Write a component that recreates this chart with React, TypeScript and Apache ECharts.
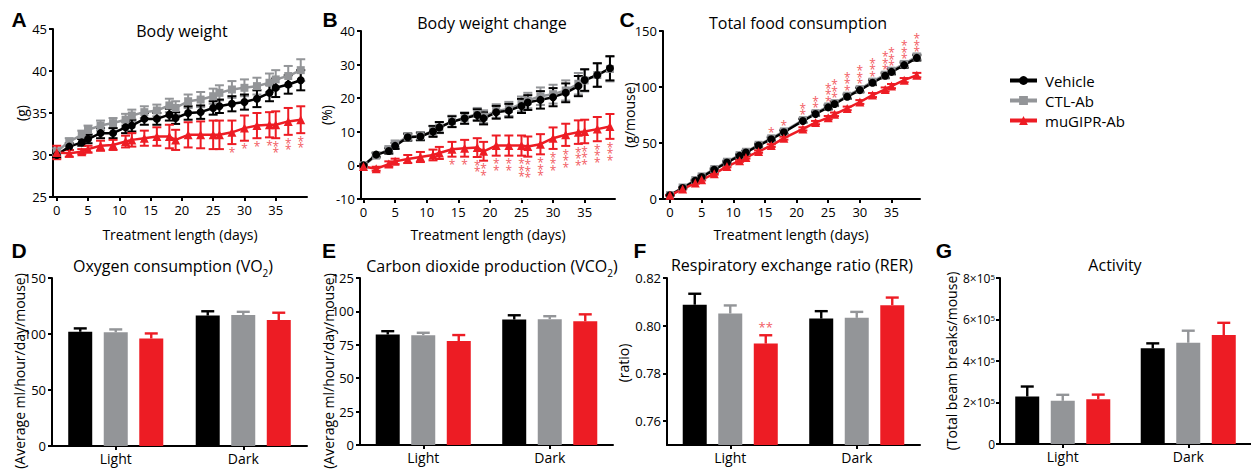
import React, { useEffect, useRef } from 'react';
import * as echarts from 'echarts';

// ---------- data ----------
const seriesNames = ['Vehicle', 'CTL-Ab', 'muGIPR-Ab'];
const days = [0, 2, 4, 5, 7, 9, 11, 12, 14, 16, 18, 19, 21, 23, 25, 26, 28, 30, 32, 34, 35, 37, 39];
const daysC = [0, 2, 4, 5, 7, 9, 11, 12, 14, 16, 18, 21, 23, 25, 26, 28, 30, 32, 34, 35, 37, 39];
const dayTicks = [0, 5, 10, 15, 20, 25, 30, 35];

// A: body weight (g)
const bwVehicle = [30.0, 31.0, 31.5, 31.9, 32.6, 32.6, 33.3, 33.5, 34.3, 34.3, 34.8, 34.4, 35.0, 35.1, 35.6, 35.8, 36.1, 36.3, 36.7, 37.4, 38.0, 38.4, 38.9];
const bwVehicleErr = [0.3, 0.4, 0.4, 0.5, 0.6, 0.6, 0.7, 0.7, 0.7, 0.7, 0.7, 0.7, 0.8, 0.8, 0.8, 0.8, 0.9, 0.9, 1.0, 1.0, 1.1, 1.1, 1.2];
const bwCtl = [30.4, 31.6, 32.4, 33.0, 33.5, 33.8, 34.2, 34.7, 35.1, 35.3, 35.9, 35.6, 36.4, 36.6, 37.0, 37.4, 37.8, 38.0, 38.2, 38.6, 39.0, 39.4, 40.1];
const bwCtlErr = [0.4, 0.4, 0.5, 0.5, 0.6, 0.6, 0.7, 0.7, 0.7, 0.7, 0.8, 0.8, 0.8, 0.9, 0.9, 0.9, 1.0, 1.0, 1.0, 1.1, 1.1, 1.2, 1.3];
const bwGipr = [30.3, 30.2, 30.4, 30.7, 31.1, 31.2, 31.6, 31.8, 32.0, 32.2, 32.2, 31.8, 32.4, 32.4, 32.4, 32.4, 32.7, 33.2, 33.5, 33.6, 33.6, 34.0, 34.2];
const bwGiprErr = [0.8, 0.4, 0.3, 0.4, 0.6, 0.6, 0.7, 0.8, 0.9, 1.1, 1.4, 1.2, 1.5, 1.6, 1.7, 1.7, 1.4, 1.5, 1.5, 1.5, 1.6, 1.6, 1.6];
const sigADays = [28, 30, 32, 34, 35, 37, 39];
const sigAStars = [1, 1, 1, 1, 2, 2, 2];

// B: body weight change (%)
const bwcVehicle = [0, 3.2, 4.3, 5.8, 8.4, 8.6, 10.1, 11.3, 13.0, 14.0, 15.0, 14.0, 15.8, 16.3, 17.7, 18.7, 19.5, 20.3, 21.6, 23.6, 25.4, 26.9, 28.9];
const bwcVehicleErr = [0.3, 0.6, 0.8, 0.9, 1.0, 1.1, 1.6, 1.6, 1.6, 1.6, 1.7, 1.8, 1.9, 2.0, 2.1, 2.2, 2.6, 2.7, 2.8, 3.0, 3.2, 3.5, 3.6];
const bwcCtl = [0, 2.9, 4.8, 6.4, 8.5, 8.7, 10.3, 11.2, 13.1, 14.1, 15.3, 14.5, 16.2, 16.8, 18.3, 19.3, 20.6, 21.2, 22.3, 24.3, 25.3, 26.9, 28.7];
const bwcCtlErr = [0.3, 0.7, 0.9, 1.0, 1.1, 1.2, 1.5, 1.6, 1.7, 1.7, 1.8, 1.9, 2.0, 2.1, 2.2, 2.3, 2.6, 2.8, 3.0, 3.2, 3.3, 3.5, 3.7];
const bwcGipr = [-0.3, -1.0, 0.4, 1.2, 1.9, 2.5, 3.1, 3.7, 4.8, 5.1, 5.3, 4.2, 5.9, 5.9, 5.9, 5.6, 6.3, 8.1, 9.1, 9.9, 10.1, 10.8, 11.6];
const bwcGiprErr = [0.3, 0.6, 0.8, 0.8, 1.2, 1.5, 1.6, 1.8, 2.2, 2.5, 2.8, 2.8, 3.0, 3.0, 3.0, 3.0, 3.0, 3.2, 3.3, 3.5, 3.5, 3.6, 3.7];
const sigBDays = [14, 16, 18, 19, 21, 23, 25, 26, 28, 30, 32, 34, 35, 37, 39];
const sigBStars = [1, 1, 2, 2, 2, 2, 3, 3, 3, 3, 3, 3, 3, 3, 3];

// C: total food consumption (g/mouse)
const foodVehicle = [3.3, 9.8, 16.3, 19.6, 26.1, 32.6, 38.5, 41.5, 47.7, 53.4, 59.6, 69.7, 75.9, 81.8, 84.8, 91.3, 97.2, 103.8, 110.0, 113.5, 119.5, 126.0];
const foodVehicleErr = [0.2, 0.4, 0.6, 0.7, 0.9, 1.0, 1.1, 1.2, 1.3, 1.4, 1.5, 1.6, 1.7, 1.8, 1.8, 1.9, 2.0, 2.1, 2.2, 2.2, 2.3, 2.4];
const foodCtl = [3.5, 10.3, 16.9, 20.2, 26.8, 33.3, 39.2, 42.2, 48.4, 54.2, 60.4, 70.5, 76.7, 82.7, 85.6, 92.2, 98.1, 104.8, 111.0, 114.6, 120.6, 127.2];
const foodCtlErr = [0.3, 0.5, 0.7, 0.8, 1.0, 1.1, 1.2, 1.3, 1.4, 1.5, 1.6, 1.7, 1.8, 1.9, 1.9, 2.0, 2.1, 2.2, 2.3, 2.3, 2.4, 2.5];
const foodGipr = [3.3, 8.9, 14.2, 17.2, 22.5, 29.1, 34.1, 37.1, 42.4, 47.7, 54.3, 62.6, 68.2, 72.6, 75.6, 80.9, 86.6, 92.8, 97.8, 100.8, 106.1, 110.6];
const foodGiprErr = [0.2, 0.3, 0.5, 0.6, 0.7, 0.8, 0.9, 1.0, 1.1, 1.2, 1.3, 1.4, 1.5, 1.5, 1.6, 1.6, 1.7, 1.8, 1.8, 1.9, 1.9, 2.0];
const sigCDays = [16, 18, 21, 23, 25, 26, 28, 30, 32, 34, 35, 37, 39];
const sigCStars = [1, 1, 2, 2, 3, 3, 3, 3, 3, 3, 3, 3, 3];

// D-G: bar panels
const periods = ['Light', 'Dark'];
const vo2Vehicle = [102, 116.5];
const vo2VehicleErr = [3.0, 3.8];
const vo2Ctl = [101.5, 117];
const vo2CtlErr = [2.6, 2.8];
const vo2Gipr = [96, 112.5];
const vo2GiprErr = [4.5, 6.5];

const vco2Vehicle = [82.7, 93.9];
const vco2VehicleErr = [2.5, 3.2];
const vco2Ctl = [82.2, 94.2];
const vco2CtlErr = [1.8, 2.2];
const vco2Gipr = [77.8, 92.6];
const vco2GiprErr = [4.5, 5.2];

const rerVehicle = [0.8088, 0.803];
const rerVehicleErr = [0.0046, 0.0031];
const rerCtl = [0.8051, 0.8033];
const rerCtlErr = [0.0034, 0.0025];
const rerGipr = [0.7925, 0.8086];
const rerGiprErr = [0.0035, 0.0032];
const sigFPeriod = [0];
const sigFLabel = ['**'];

const actVehicle = [229000, 461000];
const actVehicleErr = [48000, 24000];
const actCtl = [208000, 488000];
const actCtlErr = [29000, 58000];
const actGipr = [216000, 525000];
const actGiprErr = [22000, 59000];

const rerTicks = [0.76, 0.78, 0.8, 0.82];

// ---------- styles ----------
const FONT = '"Open Sans", "Noto Sans", sans-serif';
const BOLD_FONT = '"Liberation Sans", Arial, sans-serif';
const BLACK = '#000000';
const GRAY = '#939598';
const RED = '#ED1C24';
const STAR = '#F25C63';
const COLORS = [BLACK, GRAY, RED];
const SYMBOLS = ['circle', 'rect', 'triangle'];
const SYMBOL_SIZES = [8, 8, 9];
const BAR_W = 24;
const BAR_STEP = 35.5;

const errRender = (color: string, hw: number) => (params: any, api: any) => {
  const x = api.value(0), y = api.value(1), e = api.value(2);
  const t = api.coord([x, y + e]);
  const b = api.coord([x, y - e]);
  const s = { stroke: color, lineWidth: 2 };
  return {
    type: 'group',
    children: [
      { type: 'line', shape: { x1: t[0], y1: t[1], x2: b[0], y2: b[1] }, style: s },
      { type: 'line', shape: { x1: t[0] - hw, y1: t[1], x2: t[0] + hw, y2: t[1] }, style: s },
      { type: 'line', shape: { x1: b[0] - hw, y1: b[1], x2: b[0] + hw, y2: b[1] }, style: s },
    ],
  };
};

const barErrRender = (color: string, dx: number) => (params: any, api: any) => {
  const i = api.value(0), v = api.value(1), e = api.value(2);
  const t = api.coord([i, v + e]);
  const b = api.coord([i, v]);
  const x = t[0] + dx;
  const s = { stroke: color, lineWidth: 2.4 };
  return {
    type: 'group',
    children: [
      { type: 'line', shape: { x1: x, y1: b[1], x2: x, y2: t[1] }, style: s },
      { type: 'line', shape: { x1: x - 6.5, y1: t[1], x2: x + 6.5, y2: t[1] }, style: s },
    ],
  };
};

// stacked asterisks, one text per point
const starRender = (dir: number, gap: number) => (params: any, api: any) => {
  const x = api.value(0), y = api.value(1), n = api.value(2);
  const p = api.coord([x, y]);
  const lines: string[] = [];
  for (let k = 0; k < n; k++) lines.push('*');
  return {
    type: 'text',
    x: p[0],
    y: p[1] + dir * gap,
    style: {
      text: lines.join('\n'), fill: STAR, fontSize: 12, lineHeight: 6.5, fontFamily: FONT,
      align: 'center', verticalAlign: dir > 0 ? 'top' : 'bottom',
    },
  };
};

const axisLineStyle = { color: '#000', width: 2 };

function valueX(idx: number, min: number, max: number) {
  return {
    type: 'value', gridIndex: idx, min, max,
    axisLine: { show: true, onZero: false, lineStyle: axisLineStyle },
    axisTick: { show: true, length: 4, lineStyle: axisLineStyle, customValues: dayTicks },
    axisLabel: { show: true, color: '#000', fontSize: 13, fontFamily: FONT, margin: 6, customValues: dayTicks },
    splitLine: { show: false },
  };
}

function valueY(idx: number, min: number, max: number, interval?: number, extra: any = {}) {
  const base: any = {
    type: 'value', gridIndex: idx, min, max,
    axisLine: { show: true, onZero: false, lineStyle: axisLineStyle },
    axisTick: { show: true, length: 4, lineStyle: axisLineStyle },
    axisLabel: { show: true, color: '#000', fontSize: 13, fontFamily: FONT, margin: 6 },
    splitLine: { show: false },
  };
  if (interval !== undefined) base.interval = interval;
  if (extra.axisLabel) Object.assign(base.axisLabel, extra.axisLabel);
  if (extra.axisTick) Object.assign(base.axisTick, extra.axisTick);
  return base;
}

function catX(idx: number) {
  return {
    type: 'category', gridIndex: idx, data: periods,
    axisLine: { show: true, onZero: false, lineStyle: axisLineStyle },
    axisTick: { show: true, alignWithLabel: true, length: 4, lineStyle: axisLineStyle },
    axisLabel: { color: '#000', fontSize: 14, fontFamily: FONT, margin: 5 },
    splitLine: { show: false },
  };
}

function linePanel(idx: number, xs: number[], vals: number[][], errs: number[][]) {
  const out: any[] = [];
  const order = [1, 0, 2];
  order.forEach((g) => {
    out.push({
      type: 'custom', xAxisIndex: idx, yAxisIndex: idx, silent: true,
      renderItem: errRender(COLORS[g], 4.5),
      encode: { x: 0, y: 1 },
      data: xs.map((x, i) => [x, vals[g][i], errs[g][i]]),
    });
    out.push({
      type: 'line', name: seriesNames[g], xAxisIndex: idx, yAxisIndex: idx,
      data: xs.map((x, i) => [x, vals[g][i]]),
      symbol: SYMBOLS[g], symbolSize: SYMBOL_SIZES[g], showSymbol: true,
      lineStyle: { width: 2.5, color: COLORS[g] },
      itemStyle: { color: COLORS[g] },
      color: COLORS[g],
    });
  });
  return out;
}

function barPanel(idx: number, vals: number[][], errs: number[][]) {
  const out: any[] = [];
  [0, 1, 2].forEach((g) => {
    out.push({
      type: 'bar', name: seriesNames[g], xAxisIndex: idx, yAxisIndex: idx,
      data: vals[g], barWidth: BAR_W, barGap: '48%',
      itemStyle: { color: COLORS[g] }, color: COLORS[g],
    });
  });
  [0, 1, 2].forEach((g) => {
    out.push({
      type: 'custom', xAxisIndex: idx, yAxisIndex: idx, silent: true,
      renderItem: barErrRender(COLORS[g], (g - 1) * BAR_STEP),
      encode: { x: 0, y: 1 },
      data: vals[g].map((v, i) => [i, v, errs[g][i]]),
    });
  });
  return out;
}

function starSeries(idx: number, xs: number[], anchor: (i: number) => number, sDays: number[], stars: number[], dir: number, gap: number) {
  return {
    type: 'custom', xAxisIndex: idx, yAxisIndex: idx, silent: true,
    renderItem: starRender(dir, gap),
    encode: { x: 0, y: 1 },
    data: sDays.map((d, k) => [d, anchor(xs.indexOf(d)), stars[k]]),
  };
}

function text(x: number, y: number, t: string, opts: any = {}) {
  return {
    type: 'text', x, y, rotation: opts.rotation || 0, silent: true,
    style: {
      text: t, fill: '#000', fontSize: opts.fontSize || 16, fontFamily: opts.fontFamily || FONT,
      fontWeight: opts.fontWeight || 'normal', align: 'center', verticalAlign: 'middle',
      rich: opts.rich,
    },
  };
}

const subRich = { s: { fontSize: 10, lineHeight: 23, fontFamily: FONT, fill: '#000', verticalAlign: 'bottom' } };

export default function App() {
  const ref = useRef<HTMLDivElement>(null);
  useEffect(() => {
    document.body.style.margin = '0';
    if (!ref.current) return;
    const chart = echarts.init(ref.current, undefined, { renderer: 'svg' });

    const series: any[] = [
      ...linePanel(0, days, [bwVehicle, bwCtl, bwGipr], [bwVehicleErr, bwCtlErr, bwGiprErr]),
      starSeries(0, days, (i) => bwGipr[i] - bwGiprErr[i], sigADays, sigAStars, 1, 5),
      ...linePanel(1, days, [bwcVehicle, bwcCtl, bwcGipr], [bwcVehicleErr, bwcCtlErr, bwcGiprErr]),
      starSeries(1, days, (i) => bwcGipr[i] - bwcGiprErr[i], sigBDays, sigBStars, 1, 5),
      ...linePanel(2, daysC, [foodVehicle, foodCtl, foodGipr], [foodVehicleErr, foodCtlErr, foodGiprErr]),
      starSeries(2, daysC, (i) => foodVehicle[i], sigCDays, sigCStars, -1, 3),
      ...barPanel(3, [vo2Vehicle, vo2Ctl, vo2Gipr], [vo2VehicleErr, vo2CtlErr, vo2GiprErr]),
      ...barPanel(4, [vco2Vehicle, vco2Ctl, vco2Gipr], [vco2VehicleErr, vco2CtlErr, vco2GiprErr]),
      ...barPanel(5, [rerVehicle, rerCtl, rerGipr], [rerVehicleErr, rerCtlErr, rerGiprErr]),
      {
        type: 'custom', xAxisIndex: 5, yAxisIndex: 5, silent: true,
        encode: { x: 0, y: 1 },
        data: sigFPeriod.map((p, k) => [p, rerGipr[p] + rerGiprErr[p], k]),
        renderItem: (params: any, api: any) => {
          const p = api.coord([api.value(0), api.value(1)]);
          return {
            type: 'text', x: p[0] + BAR_STEP, y: p[1] - 2,
            style: { text: sigFLabel[api.value(2)], fill: STAR, fontSize: 13, fontFamily: FONT, align: 'center', verticalAlign: 'bottom' },
          };
        },
      },
      ...barPanel(6, [actVehicle, actCtl, actGipr], [actVehicleErr, actCtlErr, actGiprErr]),
    ];

    const graphic: any[] = [
      // panel letters
      text(19, 19, 'A', { fontSize: 21, fontWeight: 'bold', fontFamily: BOLD_FONT }),
      text(330, 19, 'B', { fontSize: 21, fontWeight: 'bold', fontFamily: BOLD_FONT }),
      text(627, 19, 'C', { fontSize: 21, fontWeight: 'bold', fontFamily: BOLD_FONT }),
      text(19, 250, 'D', { fontSize: 21, fontWeight: 'bold', fontFamily: BOLD_FONT }),
      text(329, 250, 'E', { fontSize: 21, fontWeight: 'bold', fontFamily: BOLD_FONT }),
      text(640, 250, 'F', { fontSize: 21, fontWeight: 'bold', fontFamily: BOLD_FONT }),
      text(944, 250, 'G', { fontSize: 21, fontWeight: 'bold', fontFamily: BOLD_FONT }),
      // titles
      text(182, 31, 'Body weight'),
      text(492, 23, 'Body weight change'),
      text(798, 23, 'Total food consumption'),
      text(173, 266, 'Oxygen consumption (VO{s|2})', { rich: subRich }),
      text(492, 266, 'Carbon dioxide production (VCO{s|2})', { rich: subRich }),
      text(792, 265, 'Respiratory exchange ratio (RER)'),
      text(1115, 265, 'Activity'),
      // x axis names
      text(180, 234, 'Treatment length (days)', { fontSize: 14 }),
      text(488, 234, 'Treatment length (days)', { fontSize: 14 }),
      text(791, 234, 'Treatment length (days)', { fontSize: 14 }),
      // y axis names
      text(21, 113, '(g)', { fontSize: 14, rotation: Math.PI / 2 }),
      text(326, 115, '(%)', { fontSize: 14, rotation: Math.PI / 2 }),
      text(629, 115, '(g/mouse)', { fontSize: 14, rotation: Math.PI / 2 }),
      text(19, 371, '(Average ml/hour/day/mouse)', { fontSize: 14, rotation: Math.PI / 2 }),
      text(328, 371, '(Average ml/hour/day/mouse)', { fontSize: 14, rotation: Math.PI / 2 }),
      text(623, 363, '(ratio)', { fontSize: 14, rotation: Math.PI / 2 }),
      text(951, 361, '(Total beam breaks/mouse)', { fontSize: 14, rotation: Math.PI / 2 }),
    ];

    const option: any = {
      animation: false,
      textStyle: { fontFamily: FONT },
      grid: [
        { left: 53, top: 29, width: 254, height: 168 },
        { left: 361, top: 31, width: 254, height: 168 },
        { left: 663, top: 31, width: 257, height: 168 },
        { left: 52, top: 278, width: 255, height: 168 },
        { left: 360, top: 278, width: 253, height: 167 },
        { left: 667, top: 278, width: 253, height: 167 },
        { left: 1000, top: 278, width: 262, height: 166 },
      ],
      xAxis: [
        valueX(0, -0.6, 40),
        valueX(1, -0.4, 39.8),
        valueX(2, -1.1, 39.5),
        catX(3), catX(4), catX(5), catX(6),
      ],
      yAxis: [
        valueY(0, 25, 45, 5),
        valueY(1, -10, 40, 10),
        valueY(2, 0, 150, 50),
        valueY(3, 0, 150, 50),
        valueY(4, 0, 125, 25),
        valueY(5, 0.75, 0.82, undefined, {
          axisLabel: { customValues: rerTicks, formatter: (v: number) => v.toFixed(2) },
          axisTick: { customValues: rerTicks },
        }),
        valueY(6, 0, 800000, 200000, {
          axisLabel: {
            margin: 5,
            formatter: (v: number) => (v === 0 ? '{b|0}' : `{b|${Math.round(v / 100000)}×10}{p|5}`),
            rich: {
              b: { fontSize: 12, fontFamily: FONT, color: '#000' },
              p: { fontSize: 8, fontFamily: FONT, color: '#000', verticalAlign: 'top' },
            },
          },
        }),
      ],
      legend: {
        data: seriesNames,
        orient: 'vertical',
        left: 1003,
        top: 68,
        itemWidth: 27,
        itemHeight: 11,
        itemGap: 5,
        lineStyle: { width: 4 },
        textStyle: { fontSize: 15, fontFamily: FONT, color: '#000', lineHeight: 15, padding: [0, 0, 0, 3] },
        selectedMode: false,
      },
      graphic,
      series,
    };
    chart.setOption(option);
    return () => chart.dispose();
  }, []);
  return <div ref={ref} style={{ position: 'absolute', left: 0, top: 0, width: 1251, height: 469 }} />;
}
